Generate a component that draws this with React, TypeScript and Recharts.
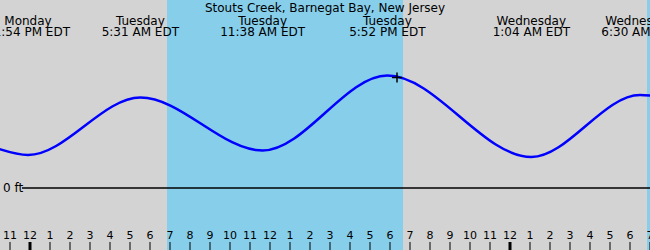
import { ComposedChart, Line, XAxis, YAxis, ReferenceArea, ReferenceLine, ReferenceDot } from 'recharts';

// hours measured from Tuesday midnight
const tideHours = [-1.7, -0.1, 5.517, 11.633, 17.867, 25.067, 30.5, 31.2];
const tideFeet = [0.8, 0.66, 1.81, 0.75, 2.25, 0.62, 1.86, 1.84];

const extremeHours = [-0.1, 5.517, 11.633, 17.867, 25.067, 30.5];
const extremeDays = ['Monday', 'Tuesday', 'Tuesday', 'Tuesday', 'Wednesday', 'Wednesday'];
const extremeTimes = ['11:54 PM EDT', '5:31 AM EDT', '11:38 AM EDT', '5:52 PM EDT', '1:04 AM EDT', '6:30 AM EDT'];

const daylightStart = [6.85, 30.85];
const daylightEnd = [18.65, 31];

const tickHours = [-1, 0, 1, 2, 3, 4, 5, 6, 7, 8, 9, 10, 11, 12, 13, 14, 15, 16, 17, 18, 19, 20, 21, 22, 23, 24, 25, 26, 27, 28, 29, 30, 31];
const tickLabels = ['11', '12', '1', '2', '3', '4', '5', '6', '7', '8', '9', '10', '11', '12', '1', '2', '3', '4', '5', '6', '7', '8', '9', '10', '11', '12', '1', '2', '3', '4', '5', '6', '7'];
const midnightHours = [0, 24];

const nowHour = 18.35;
const nowFeet = 2.21;

const title = 'Stouts Creek, Barnegat Bay, New Jersey';

const W = 650;
const H = 250;
const FONT = '"DejaVu Sans", sans-serif';

const data = tideHours.map((h, i) => ({ h, ft: tideFeet[i] }));

function HourTick({ x, payload }: any) {
    const i = tickHours.indexOf(payload.value);
    const thick = midnightHours.includes(payload.value);
    return (
        <g>
            <text x={x} y={H - 11} textAnchor="middle" fontSize={11} fontFamily={FONT} fill="#000">
                {tickLabels[i]}
            </text>
            <line x1={x} x2={x} y1={H - 8} y2={H} stroke="#000" strokeWidth={thick ? 3 : 1} />
        </g>
    );
}

function ExtremeLabel({ viewBox, day, time }: any) {
    const x = viewBox ? viewBox.x : 0;
    return (
        <g fontFamily={FONT} fontSize={12} fill="#000">
            <text x={x} y={25} textAnchor="middle">{day}</text>
            <text x={x} y={36} textAnchor="middle">{time}</text>
        </g>
    );
}

function TitleLabel() {
    return (
        <text x={W / 2} y={12} textAnchor="middle" fontSize={12} fontFamily={FONT} fill="#000">
            {title}
        </text>
    );
}

function ZeroLabel() {
    return (
        <text x={3} y={192} fontSize={12} fontFamily={FONT} fill="#000">0 ft</text>
    );
}

function NowMarker({ cx, cy }: any) {
    return (
        <g stroke="#000" strokeWidth={1.5}>
            <line x1={cx - 5} x2={cx + 5} y1={cy} y2={cy} />
            <line x1={cx} x2={cx} y1={cy - 5} y2={cy + 5} />
        </g>
    );
}

export default function App() {
    return (
        <div style={{ position: 'fixed', left: 0, top: 0, width: W, height: H, background: '#d3d3d3' }}>
            <ComposedChart width={W} height={H} data={data} margin={{ top: 0, right: 0, bottom: 0, left: 0 }}>
                <XAxis
                    dataKey="h"
                    type="number"
                    domain={[-1.5, 31]}
                    allowDataOverflow
                    ticks={tickHours}
                    interval={0}
                    mirror
                    axisLine={false}
                    tickLine={false}
                    tick={<HourTick />}
                />
                <YAxis hide type="number" domain={[-1.24, 3.76]} allowDataOverflow />
                {daylightStart.map((s, i) => (
                    <ReferenceArea key={`day-${i}`} x1={s} x2={daylightEnd[i]} fill="#87ceeb" fillOpacity={1} stroke="none" />
                ))}
                <ReferenceLine
                    segment={[{ x: -0.4, y: 0 }, { x: 31, y: 0 }]}
                    stroke="#000"
                    strokeWidth={1.5}
                    label={<ZeroLabel />}
                />
                <ReferenceLine x={14.75} stroke="none" label={<TitleLabel />} />
                {extremeHours.map((h, i) => (
                    <ReferenceLine
                        key={`ext-${i}`}
                        x={h}
                        stroke="none"
                        label={<ExtremeLabel day={extremeDays[i]} time={extremeTimes[i]} />}
                    />
                ))}
                <Line
                    type="monotone"
                    dataKey="ft"
                    stroke="#0000ff"
                    strokeWidth={2.5}
                    dot={false}
                    activeDot={false}
                    isAnimationActive={false}
                />
                <ReferenceDot x={nowHour} y={nowFeet} shape={<NowMarker />} />
            </ComposedChart>
        </div>
    );
}
